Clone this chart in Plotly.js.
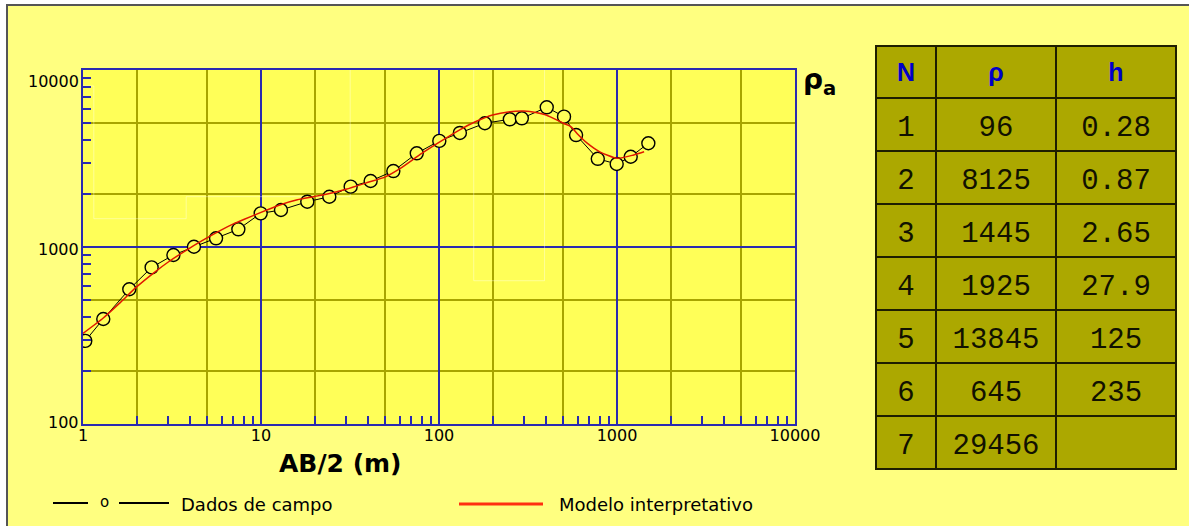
<!DOCTYPE html>
<html>
<head>
<meta charset="utf-8">
<script src="https://cdn.plot.ly/plotly-3.0.1.min.js"></script>
<style>
  html, body { margin:0; padding:0; background:#ffffff; }
  #wrap { position:absolute; left:0; top:0; width:1189px; height:526px; background:#ffffff; overflow:hidden; }
  #inner { position:absolute; left:6px; top:4px; width:1183px; height:522px; background:#ffff80;
           border-left:2px solid #555555; border-top:2px solid #555555; box-sizing:border-box; }
  #chart { position:absolute; left:0; top:0; width:1189px; height:526px; }
  #chart .cell-text { translate: 0px 8px; }
</style>
</head>
<body>
<div id="wrap">
  <div id="inner"></div>
  <div id="chart"></div>
</div>
<script>
// ---------------- DATA ----------------
// Field data (Dados de campo): AB/2 (m) and apparent resistivity
const abHalf   = [1.03, 1.3, 1.82, 2.43, 3.22, 4.2, 5.59, 7.46, 9.96, 12.95, 18.2, 24.2, 31.9, 41.3, 55.4, 75, 100.4, 131, 181, 250, 292, 403, 504, 589, 780, 996, 1194, 1500];
const rhoField = [295, 392, 577, 767, 901, 1003, 1120, 1259, 1549, 1618, 1803, 1923, 2193, 2360, 2686, 3384, 3975, 4410, 5003, 5266, 5334, 6154, 5450, 4290, 3150, 2944, 3236, 3855];

// Interpretive model curve (Modelo interpretativo)
const modelX   = [1, 1.3, 1.6, 2, 2.5, 3, 4, 5, 6, 7, 8, 10, 13, 16, 20, 25, 30, 40, 50, 60, 80, 100, 130, 160, 200, 250, 300, 350, 400, 500, 550, 600, 680, 800, 1000, 1240, 1420];
const modelRho = [325, 397, 480, 595, 715, 820, 990, 1130, 1250, 1350, 1430, 1570, 1740, 1850, 1930, 2020, 2120, 2320, 2490, 2760, 3380, 3900, 4580, 5100, 5570, 5810, 5860, 5760, 5570, 5000, 4790, 4350, 3860, 3450, 3170, 3310, 3450];

// Layered model table
const layerN   = [1, 2, 3, 4, 5, 6, 7];
const layerRho = [96, 8125, 1445, 1925, 13845, 645, 29456];
const layerH   = [0.28, 0.87, 2.65, 27.9, 125, 235];

// Axis tick labels
const xDecades = [1, 10, 100, 1000, 10000];
const xDecadeLabels = ['1', '10', '100', '1000', '10000'];
const yDecades = [100, 1000, 10000];
const yDecadeLabels = ['100', '1000', '10000'];
const gridMults = [2, 5];

// ---------------- helpers ----------------
function multiples(decs, mults) {
  const out = [];
  for (let i = 0; i < decs.length - 1; i++) for (const m of mults) out.push(decs[i] * m);
  return out;
}
const xGrid = multiples(xDecades, gridMults);
const yGrid = multiples(yDecades, gridMults);
const xMinorTicks = multiples(xDecades, [2,3,4,5,6,7,8,9]);
const yMinorTicks = multiples(yDecades, [2,3,4,5,6,7,8,9]);

// step model from table (faint ghost)
const stepX = [], stepY = [];
let depthAcc = 0;
for (let i = 0; i < layerRho.length; i++) {
  const start = i === 0 ? 0.3 : depthAcc;
  const end = i < layerH.length ? depthAcc + layerH[i] : 100000;
  stepX.push(start, end); stepY.push(layerRho[i], layerRho[i]);
  if (i < layerH.length) depthAcc += layerH[i];
}

const W = 1189, H = 526;
const PL = 83, PR = 795, PT = 70, PB = 424;
const BLUE = '#2a2ab0';
const OLIVE = '#a8a400';
const FONT = 'DejaVu Sans, sans-serif';

const traces = [
  { x: stepX, y: stepY, mode: 'lines', type: 'scatter',
    line: { color: 'rgba(255,255,255,0.38)', width: 1 }, hoverinfo: 'skip', showlegend: false },
  { x: abHalf, y: rhoField, mode: 'lines+markers', type: 'scatter', name: 'Dados de campo',
    line: { color: '#000000', width: 1 },
    marker: { symbol: 'circle', size: 13, color: '#ffff58', line: { color: '#000000', width: 1.4 } },
    showlegend: false },
  { x: modelX, y: modelRho, mode: 'lines', type: 'scatter', name: 'Modelo interpretativo',
    line: { color: '#e01800', width: 1.5, shape: 'spline', smoothing: 0.6 }, showlegend: false },
  { x: [], y: [], xaxis: 'x2', yaxis: 'y2', type: 'scatter', mode: 'lines', showlegend: false, hoverinfo: 'skip' },
  { type: 'table',
    domain: { x: [876 / W, 1177 / W], y: [1 - 476 / H, 1 - 46 / H] },
    columnwidth: [60, 120, 120],
    header: {
      values: ['N', 'ρ', 'h'],
      align: 'center', height: 52,
      fill: { color: '#aca800' },
      line: { color: '#1e1e00', width: 2 },
      font: { family: 'Liberation Sans, Arial, sans-serif', size: 25, color: '#0000c8', weight: 'bold' }
    },
    cells: {
      values: [layerN.map(String), layerRho.map(String), layerH.map(String).concat([' '])],
      align: 'center', height: 53,
      fill: { color: '#aca800' },
      line: { color: '#1e1e00', width: 2 },
      font: { family: 'Liberation Mono, monospace', size: 29, color: '#111100' }
    }
  }
];

const annotations = [];
// y tick labels
yDecades.forEach((v, i) => {
  const isTop = i === yDecades.length - 1;
  annotations.push({ xref: 'paper', yref: 'y', x: PL / W, y: Math.log10(v), text: yDecadeLabels[i],
    showarrow: false, xanchor: 'right', yanchor: isTop ? 'top' : 'middle', xshift: -2, yshift: isTop ? 0 : (i === 0 ? 2 : -2),
    font: { family: FONT, size: 16, color: '#000000' } });
});
// x axis title
annotations.push({ xref: 'paper', yref: 'paper', x: 341 / W, y: 1 - 463 / H, text: 'AB/2 (m)', showarrow: false,
  xanchor: 'center', yanchor: 'middle', font: { family: FONT, size: 25, color: '#000000', weight: 'bold' } });
// rho_a label
annotations.push({ xref: 'paper', yref: 'paper', x: 801 / W, y: 1 - 81 / H, text: 'ρ<sub>a</sub>', showarrow: false,
  xanchor: 'left', yanchor: 'middle', font: { family: FONT, size: 28, color: '#000000', weight: 'bold' } });
// legend
annotations.push({ xref: 'paper', yref: 'paper', x: 104 / W, y: 1 - 502 / H, text: 'o', showarrow: false,
  xanchor: 'center', yanchor: 'middle', font: { family: FONT, size: 15, color: '#000000' } });
annotations.push({ xref: 'paper', yref: 'paper', x: 179 / W, y: 1 - 504 / H, text: 'Dados de campo', showarrow: false,
  xanchor: 'left', yanchor: 'middle', font: { family: FONT, size: 18, color: '#000000' } });
annotations.push({ xref: 'paper', yref: 'paper', x: 557 / W, y: 1 - 504 / H, text: 'Modelo interpretativo', showarrow: false,
  xanchor: 'left', yanchor: 'middle', font: { family: FONT, size: 18, color: '#000000' } });

const shapes = [
  { type: 'line', xref: 'paper', yref: 'paper', x0: 53 / W, x1: 88 / W, y0: 1 - 503 / H, y1: 1 - 503 / H, line: { color: '#000000', width: 2 } },
  { type: 'line', xref: 'paper', yref: 'paper', x0: 119 / W, x1: 169 / W, y0: 1 - 503 / H, y1: 1 - 503 / H, line: { color: '#000000', width: 2 } },
  { type: 'line', xref: 'paper', yref: 'paper', x0: 459 / W, x1: 543 / W, y0: 1 - 504 / H, y1: 1 - 504 / H, line: { color: '#ff3010', width: 3 } }
];

const axBase = { type: 'log', zeroline: false, fixedrange: true };

const layout = {
  width: W, height: H, autosize: false,
  margin: { l: 0, r: 0, t: 0, b: 0, pad: 0 },
  paper_bgcolor: 'rgba(0,0,0,0)',
  plot_bgcolor: '#ffff58',
  showlegend: false,
  xaxis: Object.assign({}, axBase, {
    domain: [PL / W, PR / W], range: [0, 4], anchor: 'y',
    tickmode: 'array', tickvals: xGrid, showticklabels: false, ticks: '',
    showgrid: true, gridcolor: OLIVE, gridwidth: 2,
    showline: true, mirror: true, linecolor: BLUE, linewidth: 2,
    minor: { tickmode: 'array', tickvals: xMinorTicks, ticks: 'inside', ticklen: 8, tickwidth: 2, tickcolor: BLUE, showgrid: false }
  }),
  yaxis: Object.assign({}, axBase, {
    domain: [1 - PB / H, 1 - PT / H], range: [2, 4], anchor: 'x',
    tickmode: 'array', tickvals: yGrid, showticklabels: false, ticks: '',
    showgrid: true, gridcolor: OLIVE, gridwidth: 2,
    showline: true, mirror: true, linecolor: BLUE, linewidth: 2,
    minor: { tickmode: 'array', tickvals: yMinorTicks, ticks: 'inside', ticklen: 8, tickwidth: 2, tickcolor: BLUE, showgrid: false }
  }),
  xaxis2: Object.assign({}, axBase, {
    domain: [PL / W, PR / W], range: [0, 4], anchor: 'y2', overlaying: 'x',
    tickmode: 'array', tickvals: xDecades, ticktext: xDecadeLabels, ticks: '',
    tickfont: { family: FONT, size: 16, color: '#000000' },
    showgrid: true, gridcolor: BLUE, gridwidth: 2, showline: false
  }),
  yaxis2: Object.assign({}, axBase, {
    domain: [1 - PB / H, 1 - PT / H], range: [2, 4], anchor: 'x2', overlaying: 'y',
    tickmode: 'array', tickvals: yDecades, showticklabels: false, ticks: '',
    showgrid: true, gridcolor: BLUE, gridwidth: 2, showline: false
  }),
  annotations: annotations,
  shapes: shapes
};

Plotly.newPlot('chart', traces, layout, { staticPlot: true, displayModeBar: false });
</script>
</body>
</html>
